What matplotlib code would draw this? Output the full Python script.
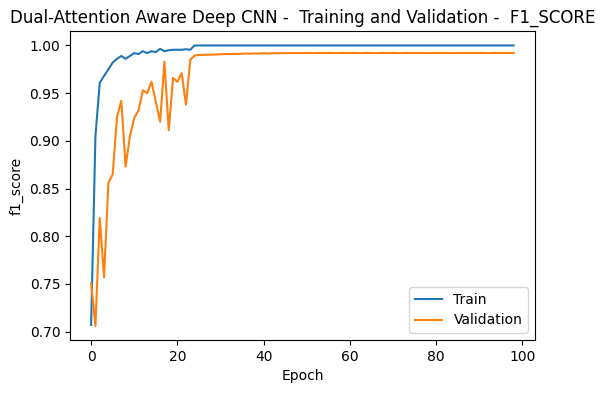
import matplotlib
matplotlib.use("Agg")
import matplotlib.pyplot as plt

train_f1 = [0.707, 0.905, 0.961, 0.968, 0.975, 0.982, 0.986, 0.989, 0.986, 0.989,
            0.992, 0.991, 0.994, 0.992, 0.994, 0.993, 0.9965, 0.994, 0.995, 0.9955,
            0.9955, 0.9955, 0.996, 0.9955] + [1.0] * 75

val_f1 = [0.751, 0.706, 0.819, 0.757, 0.856, 0.865, 0.925, 0.942, 0.873, 0.905,
          0.924, 0.932, 0.953, 0.950, 0.962, 0.941, 0.920, 0.983, 0.911, 0.966,
          0.962, 0.971, 0.938, 0.985, 0.9895, 0.9900, 0.9902, 0.9903, 0.9903, 0.9905,
          0.9908, 0.9910, 0.9910, 0.9911, 0.9912, 0.9913, 0.9915, 0.9914, 0.9916, 0.9916,
          0.9918, 0.9917, 0.9919, 0.9918, 0.9920, 0.9919, 0.9921, 0.9920, 0.9921, 0.9920,
          0.9922, 0.9921, 0.9920, 0.9922, 0.9921, 0.9922, 0.9921, 0.9920, 0.9922, 0.9921,
          0.9922, 0.9921, 0.9920, 0.9921, 0.9922, 0.9921, 0.9920, 0.9921, 0.9922, 0.9921,
          0.9922, 0.9921, 0.9920, 0.9921, 0.9922, 0.9921, 0.9922, 0.9921, 0.9920, 0.9921,
          0.9922, 0.9921, 0.9922, 0.9921, 0.9920, 0.9921, 0.9922, 0.9921, 0.9922, 0.9921,
          0.9922, 0.9921, 0.9920, 0.9921, 0.9922, 0.9921, 0.9922, 0.9921, 0.9922]

epochs = list(range(len(train_f1)))

fig, ax = plt.subplots(figsize=(6.05, 3.93), dpi=100)
fig.subplots_adjust(left=0.1157, right=0.884, top=0.92, bottom=0.135)
ax.plot(epochs, train_f1, label="Train")
ax.plot(list(range(len(val_f1))), val_f1, label="Validation")
ax.set_title("Dual-Attention Aware Deep CNN -  Training and Validation -  F1_SCORE")
ax.set_xlabel("Epoch")
ax.set_ylabel("f1_score")
ax.legend(loc="lower right")
fig.savefig("out.png", dpi=100)
